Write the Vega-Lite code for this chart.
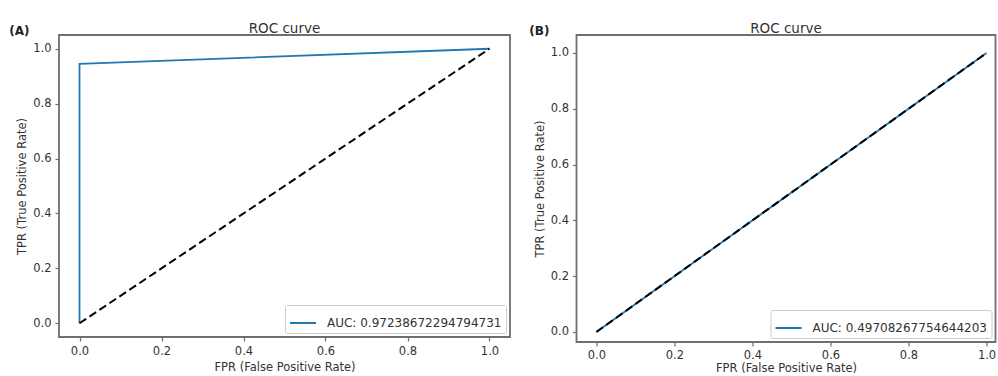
{
  "$schema": "https://vega.github.io/schema/vega-lite/v6.json",
  "background": "white",
  "padding": {"left": 9, "top": 20, "right": 0, "bottom": 0},
  "datasets": {
    "rocA": [
      {"fpr": 0, "tpr": 0, "step": 0, "label": "AUC: 0.97238672294794731"},
      {"fpr": 0, "tpr": 0.9448, "step": 1, "label": "AUC: 0.97238672294794731"},
      {"fpr": 1, "tpr": 1, "step": 2, "label": "AUC: 0.97238672294794731"}
    ],
    "rocB": [
      {"fpr": 0, "tpr": 0, "step": 0, "label": "AUC: 0.49708267754644203"},
      {"fpr": 1, "tpr": 1, "step": 1, "label": "AUC: 0.49708267754644203"}
    ],
    "diag": [
      {"fpr": 0, "tpr": 0, "step": 0},
      {"fpr": 1, "tpr": 1, "step": 1}
    ]
  },
  "config": {
    "font": "DejaVu Sans",
    "view": {"stroke": "#6f6f6f", "strokeWidth": 1.8},
    "concat": {"spacing": 17.5},
    "axis": {
      "grid": false,
      "domain": false,
      "tickColor": "#6f6f6f",
      "tickSize": 4,
      "tickWidth": 1.2,
      "labelPadding": 4,
      "labelFont": "DejaVu Sans",
      "labelFontSize": 11.5,
      "labelColor": "#333333",
      "titleFont": "DejaVu Sans",
      "titleFontSize": 11.5,
      "titleFontWeight": "normal",
      "titleColor": "#333333",
      "titlePadding": 5
    },
    "title": {"font": "DejaVu Sans", "fontSize": 13.5, "fontWeight": "normal", "color": "#333333"},
    "legend": {
      "orient": "bottom-right",
      "offset": 4,
      "title": null,
      "symbolType": "stroke",
      "symbolSize": 676,
      "symbolStrokeWidth": 2,
      "labelFont": "DejaVu Sans",
      "labelFontSize": 12,
      "labelColor": "#333333",
      "labelLimit": 400,
      "labelOffset": 10,
      "fillColor": "white",
      "strokeColor": "#cccccc",
      "padding": 4,
      "cornerRadius": 2
    }
  },
  "resolve": {
    "scale": {"color": "independent", "x": "independent", "y": "independent"},
    "legend": {"color": "independent"}
  },
  "hconcat": [
    {
      "title": {"text": "(A)", "anchor": "start", "frame": "bounds", "fontWeight": "bold", "fontSize": 12, "color": "#222222", "dx": -6.5, "dy": 17, "offset": 0},
      "resolve": {"scale": {"color": "independent"}, "legend": {"color": "independent"}},
      "vconcat": [
        {
          "width": 451,
          "height": 302,
          "title": {"text": "ROC curve", "offset": 0},
          "layer": [
            {
              "data": {"name": "rocA"},
              "mark": {"type": "line", "strokeWidth": 1.8},
              "encoding": {
                "x": {"field": "fpr", "type": "quantitative", "scale": {"domain": [-0.05, 1.05], "nice": false, "zero": false}, "axis": {"values": [0, 0.2, 0.4, 0.6, 0.8, 1.0], "format": ".1f", "title": "FPR (False Positive Rate)"}},
                "y": {"field": "tpr", "type": "quantitative", "scale": {"domain": [-0.05, 1.05], "nice": false, "zero": false}, "axis": {"values": [0, 0.2, 0.4, 0.6, 0.8, 1.0], "format": ".1f", "title": "TPR (True Positive Rate)"}},
                "order": {"field": "step", "type": "quantitative"},
                "color": {"field": "label", "type": "nominal", "scale": {"range": ["#1f77b4"]}}
              }
            },
            {
              "data": {"name": "diag"},
              "mark": {"type": "line", "color": "black", "strokeDash": [8, 4], "strokeWidth": 2},
              "encoding": {
                "x": {"field": "fpr", "type": "quantitative"},
                "y": {"field": "tpr", "type": "quantitative"},
                "order": {"field": "step", "type": "quantitative"}
              }
            }
          ]
        }
      ]
    },
    {
      "title": {"text": "(B)", "anchor": "start", "frame": "bounds", "fontWeight": "bold", "fontSize": 12, "color": "#222222", "dx": -4, "dy": 17, "offset": 0},
      "resolve": {"scale": {"color": "independent"}, "legend": {"color": "independent"}},
      "vconcat": [
        {
          "width": 419,
          "height": 307,
          "title": {"text": "ROC curve", "offset": 0},
          "layer": [
            {
              "data": {"name": "rocB"},
              "mark": {"type": "line", "strokeWidth": 1.8},
              "encoding": {
                "x": {"field": "fpr", "type": "quantitative", "scale": {"domain": [-0.051, 1.023], "nice": false, "zero": false}, "axis": {"values": [0, 0.2, 0.4, 0.6, 0.8, 1.0], "format": ".1f", "title": "FPR (False Positive Rate)", "labelPadding": 3, "titlePadding": 2}},
                "y": {"field": "tpr", "type": "quantitative", "scale": {"domain": [-0.036, 1.0645], "nice": false, "zero": false}, "axis": {"values": [0, 0.2, 0.4, 0.6, 0.8, 1.0], "format": ".1f", "title": "TPR (True Positive Rate)"}},
                "order": {"field": "step", "type": "quantitative"},
                "color": {"field": "label", "type": "nominal", "scale": {"range": ["#1f77b4"]}}
              }
            },
            {
              "data": {"name": "diag"},
              "mark": {"type": "line", "color": "black", "strokeDash": [8, 4], "strokeWidth": 2},
              "encoding": {
                "x": {"field": "fpr", "type": "quantitative"},
                "y": {"field": "tpr", "type": "quantitative"},
                "order": {"field": "step", "type": "quantitative"}
              }
            }
          ]
        }
      ]
    }
  ]
}
